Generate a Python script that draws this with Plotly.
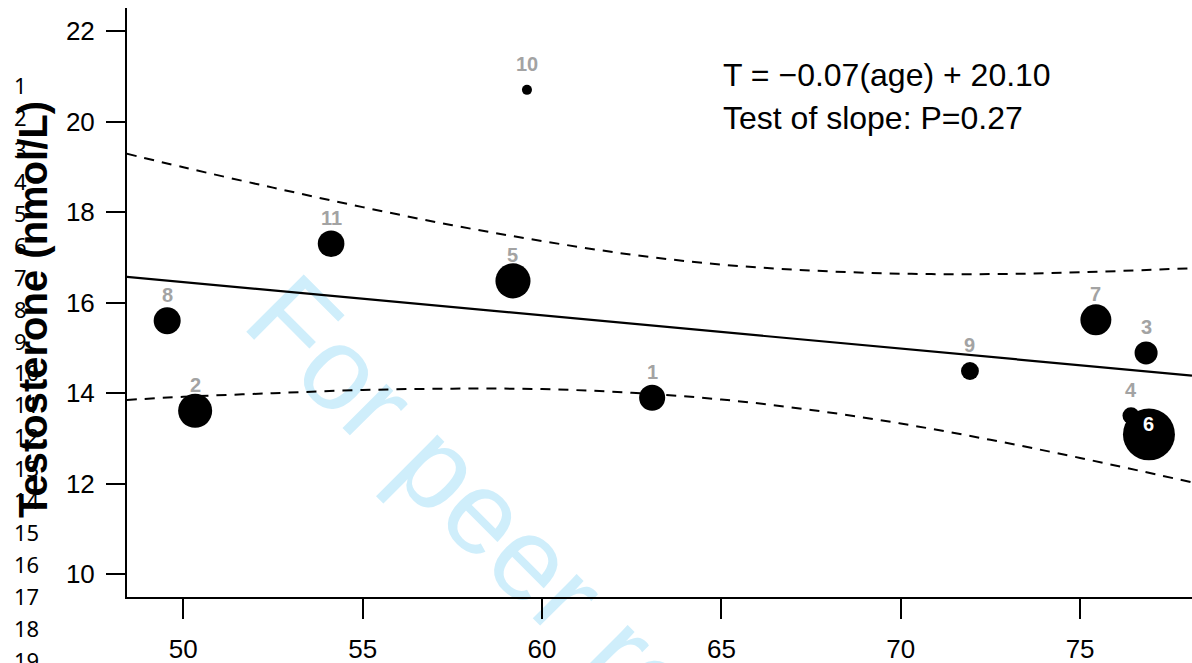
import plotly.graph_objects as go
import numpy as np

# ---- data ----
study_ids = ["1", "2", "3", "4", "5", "6", "7", "8", "9", "10", "11"]
age = [63.07, 50.33, 76.84, 76.42, 59.19, 76.92, 75.44, 49.55, 71.93, 59.58, 54.12]
testosterone = [13.90, 13.61, 14.89, 13.50, 16.48, 13.09, 15.62, 15.60, 14.49, 20.70, 17.30]
weights = [6.8, 11.6, 5.3, 2.9, 12.3, 27.0, 9.6, 7.3, 3.2, 1.0, 7.1]

band_age = [48.42, 50, 52.5, 55, 57.5, 60, 62.5, 65, 67.5, 70, 72.5, 75, 78.12]
fit_vals = [16.571, 16.455, 16.271, 16.087, 15.904, 15.72, 15.536, 15.352, 15.169, 14.985, 14.801, 14.617, 14.388]
upper_vals = [19.29, 18.99, 18.54, 18.11, 17.71, 17.36, 17.06, 16.84, 16.71, 16.64, 16.63, 16.67, 16.76]
lower_vals = [13.85, 13.92, 14.00, 14.07, 14.10, 14.09, 14.01, 13.86, 13.63, 13.33, 12.97, 12.57, 12.03]

x_ticks = [50, 55, 60, 65, 70, 75]
y_ticks = [10, 12, 14, 16, 18, 20, 22]
line_numbers = [str(i) for i in range(1, 20)]

equation_text = "T = \u22120.07(age) + 20.10"
slope_text = "Test of slope: P=0.27"
y_title = "Testosterone (nmol/L)"
watermark = "For peer review"

# ---- layout geometry (pixels) ----
W, H = 1192, 663
ML, MR, MT, MB = 127, 0, 8, 66
PW, PH = W - ML - MR, H - MT - MB


def px_x(p):
    return (p - ML) / PW


def px_y(p):
    return (H - MB - p) / PH


fig = go.Figure()

band_line = dict(color="#000000", width=2, dash="10px,8px", shape="spline")
fig.add_trace(go.Scatter(x=band_age, y=upper_vals, mode="lines", line=band_line, hoverinfo="skip", showlegend=False))
fig.add_trace(go.Scatter(x=band_age, y=lower_vals, mode="lines", line=band_line, hoverinfo="skip", showlegend=False))
fig.add_trace(go.Scatter(x=band_age, y=fit_vals, mode="lines", line=dict(color="#000000", width=2.2), hoverinfo="skip", showlegend=False))

sizes = [10 * np.sqrt(w) for w in weights]
fig.add_trace(go.Scatter(x=age, y=testosterone, mode="markers", opacity=1,
                         marker=dict(color="#000000", size=sizes, opacity=1,
                                     line=dict(width=0, color="#000000")),
                         showlegend=False))

annotations = []
for sid, a, t in zip(study_ids, age, testosterone):
    big = sid == "6"
    annotations.append(dict(x=a, y=t, xref="x", yref="y", text=sid, showarrow=False,
                            yshift=10 if big else 26,
                            font=dict(family="Liberation Sans, Arial", size=20, weight="bold",
                                      color="white" if big else "#a3a3a3")))

annotations.append(dict(x=px_x(721), y=px_y(75), xref="paper", yref="paper", text=equation_text,
                        showarrow=False, xanchor="left", yanchor="middle",
                        font=dict(family="Liberation Sans, Arial", size=32, color="black")))
annotations.append(dict(x=px_x(721), y=px_y(118), xref="paper", yref="paper", text=slope_text,
                        showarrow=False, xanchor="left", yanchor="middle",
                        font=dict(family="Liberation Sans, Arial", size=32, color="black")))

for i, ln in enumerate(line_numbers):
    annotations.append(dict(x=px_x(12), y=px_y(85 + i * 31.94), xref="paper", yref="paper", text=ln,
                            showarrow=False, xanchor="left", yanchor="middle",
                            font=dict(family="Noto Sans", size=22, color="black")))

annotations.append(dict(x=px_x(33), y=px_y(310), xref="paper", yref="paper", text=y_title,
                        showarrow=False, textangle=-90, xanchor="center", yanchor="middle",
                        font=dict(family="Liberation Sans, Arial", size=40, weight="bold", color="black")))

cx, cy = px_x(566), px_y(578)
shapes = [dict(type="rect", xref="paper", yref="paper", x0=cx - 0.005, x1=cx + 0.005,
               y0=cy - 0.005, y1=cy + 0.005, line=dict(width=0), fillcolor="rgba(0,0,0,0)",
               layer="below",
               label=dict(text=watermark, textangle=45, textposition="middle center",
                          font=dict(family="Liberation Sans, Arial", size=118, color="#cfeefb")))]

fig.update_layout(
    width=W, height=H,
    margin=dict(l=ML, r=MR, t=MT, b=MB, pad=0, autoexpand=False),
    paper_bgcolor="white", plot_bgcolor="white",
    showlegend=False,
    annotations=annotations,
    shapes=shapes,
    xaxis=dict(range=[48.43, 78.12], tickvals=x_ticks, ticktext=[str(v) for v in x_ticks],
               automargin=False,
               showgrid=False, zeroline=False, showline=True, linecolor="black", linewidth=2,
               ticks="outside", ticklen=20, tickwidth=1.5, tickcolor="black",
               ticklabelstandoff=8,
               tickfont=dict(family="Liberation Sans, Arial", size=26, color="black")),
    yaxis=dict(range=[9.498, 22.508], tickvals=y_ticks, ticktext=[str(v) for v in y_ticks],
               automargin=False,
               showgrid=False, zeroline=False, showline=True, linecolor="black", linewidth=2,
               ticks="outside", ticklen=19, tickwidth=1.5, tickcolor="black",
               ticklabelstandoff=6,
               tickfont=dict(family="Liberation Sans, Arial", size=26, color="black")),
)

fig.write_html("out.html")
